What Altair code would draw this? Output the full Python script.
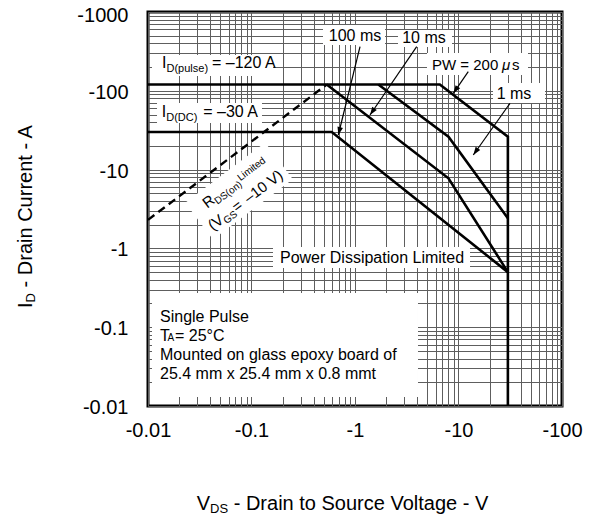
import altair as alt
import pandas as pd

FONT = "Liberation Sans"

# ---------------- data (magnitudes; axes are labelled negative) ----------------
pw200_v = [0.01, 6.6, 30.0, 30.0]
pw200_i = [120.0, 120.0, 26.2, 0.01]
ms1_v = [1.68, 8.0, 30.0]
ms1_i = [120.0, 26.2, 2.41]
ms10_v = [0.533, 8.0, 30.0]
ms10_i = [120.0, 7.76, 0.5]
ms100_v = [0.01, 0.596, 30.0]
ms100_i = [30.0, 30.0, 0.5]
rds_v = [0.01, 0.533]
rds_i = [2.3, 120.0]

x_decades = [0.01, 0.1, 1, 10, 100]
y_decades = [0.01, 0.1, 1, 10, 100, 1000]
mantissas = [1, 2, 3, 4, 5, 6, 7, 8, 9]

x_grid = sorted({round(m * d, 6) for d in x_decades[:-1] for m in mantissas} | {x_decades[-1]})
y_grid = sorted({round(m * d, 6) for d in y_decades[:-1] for m in mantissas} | {y_decades[-1]})


def label_expr(decades):
    lst = ",".join(str(d) for d in decades)
    return f"indexof([{lst}], datum.value) >= 0 ? '-' + datum.value : ''"


xs = alt.Scale(type="log", domain=[0.01, 100], nice=False)
ys = alt.Scale(type="log", domain=[0.01, 1000], nice=False)
common_axis = dict(grid=True, gridColor="#5e5e5e", gridWidth=1, ticks=False, tickSize=0,
                   domain=False, labelFont=FONT, labelFontSize=20, labelColor="black",
                   labelOverlap=False, labelFlush=False, title=None)
xaxis = alt.Axis(values=x_grid, labelExpr=label_expr(x_decades), labelPadding=14, **common_axis)
yaxis = alt.Axis(values=y_grid, labelExpr=label_expr(y_decades), labelPadding=20,
                 labelOffset={"condition": {"test": f"datum.value == {y_decades[-1]}", "value": 3},
                              "value": 1.5},
                 **common_axis)


def X():
    return alt.X("V:Q", scale=xs, axis=xaxis)


def Y():
    return alt.Y("I:Q", scale=ys, axis=yaxis)


# ---------------- curves ----------------
rows = []
for name, vs, is_ in [("200us", pw200_v, pw200_i), ("1ms", ms1_v, ms1_i),
                      ("10ms", ms10_v, ms10_i), ("100ms", ms100_v, ms100_i)]:
    for k, (v, i) in enumerate(zip(vs, is_)):
        rows.append({"series": name, "V": v, "I": i, "k": k})
curves_df = pd.DataFrame(rows)
rds_df = pd.DataFrame({"V": rds_v, "I": rds_i, "k": [0, 1]})

curves = alt.Chart(curves_df).mark_line(color="black", strokeWidth=2.6).encode(
    x=X(), y=Y(), detail="series:N", order="k:Q")
rds = alt.Chart(rds_df).mark_line(color="black", strokeWidth=2.4, strokeDash=[8, 5]).encode(
    x=X(), y=Y(), order="k:Q")

# ---------------- annotation layout ----------------
box_v1 = [0.01093, 0.01222, 0.4907, 2.603, 4.962, 21.54, 0.1613, 0.01093]
box_v2 = [0.1613, 0.1263, 1.950, 8.656, 46.94, 68.5, 12.92, 4.061]
box_i1 = [284.6, 70.0, 683.9, 591.0, 301.8, 125.6, 1.042, 0.2716]
box_i2 = [154.1, 39.0, 381.3, 359.6, 158.7, 70.0, 0.564, 0.0130]
boxes_df = pd.DataFrame({"V": box_v1, "V2": box_v2, "I": box_i1, "I2": box_i2})
boxes = alt.Chart(boxes_df).mark_rect(color="white").encode(
    x=X(), x2="V2:Q", y=Y(), y2="I2:Q")

# rotated white band behind the R_DS(on) label
halo_df = pd.DataFrame({"V": [0.03117], "I": [2.220], "V2": [0.1843], "I2": [12.89]})
halo = alt.Chart(halo_df).mark_rule(color="white", strokeWidth=46, strokeCap="butt").encode(
    x=X(), y=Y(), x2="V2:Q", y2="I2:Q")

# arrows: start (label) -> tip (curve)
arr_v1 = [1.118, 3.946, 12.43, 31.45]
arr_i1 = [362.8, 362.8, 174.7, 69.4]
arr_v2 = [0.6898, 1.396, 8.91, 13.9]
arr_i2 = [27.49, 49.3, 92.96, 15.32]
arr_angle = [193.8, 214.4, 214.8, 215.4]
arrows_df = pd.DataFrame({"V": arr_v1, "I": arr_i1, "V2": arr_v2, "I2": arr_i2})
arrow_lines = alt.Chart(arrows_df).mark_rule(color="black", strokeWidth=1.2).encode(
    x=X(), y=Y(), x2="V2:Q", y2="I2:Q")
heads = []
for v, i, a in zip(arr_v2, arr_i2, arr_angle):
    heads.append(alt.Chart(pd.DataFrame({"V": [v], "I": [i]})).mark_point(
        shape="M0,0L0.7,2L-0.7,2Z", filled=True, color="black", opacity=1,
        size=64, angle=a, strokeWidth=0).encode(x=X(), y=Y()))


def note(text, v, i, size=16, dx=0, dy=0, align="left", angle=0, style="normal"):
    props = dict(text=text, font=FONT, fontSize=size, align=align, baseline="alphabetic",
                 dx=dx, dy=dy, color="black", fontStyle=style)
    if angle:
        props["angle"] = angle
    return alt.Chart(pd.DataFrame({"V": [v], "I": [i]})).mark_text(**props).encode(x=X(), y=Y())


notes = [
    # I_D(pulse)
    note("I", 0.01365, 191.9), note("D(pulse)", 0.01365, 191.9, size=11, dx=4.5, dy=4),
    note("= \u2013120 A", 0.01365, 191.9, dx=50),
    # I_D(DC)
    note("I", 0.01356, 46.9), note("D(DC)", 0.01356, 46.9, size=11, dx=4.5, dy=4),
    note("= \u201330 A", 0.01356, 46.9, dx=41.5),
    # pulse widths
    note("100 ms", 1.0, 428.5, align="center"),
    note("10 ms", 4.642, 400.6, align="center"),
    note("PW = 200", 5.546, 183.6, size=15),
    note("\u03bc", 5.546, 183.6, size=15, dx=70, style="italic"),
    note("s", 5.546, 183.6, size=15, dx=80),
    note("1 ms", 34.38, 78.0, align="center"),
    note("Power Dissipation Limited", 1.46, 0.647, align="center"),
    # info block
    note("Single Pulse", 0.01306, 0.1174),
    note("T", 0.01306, 0.0668), note("A", 0.01306, 0.0668, size=10, dx=7.5),
    note("= 25\u00b0C", 0.01306, 0.0668, dx=15),
    note("Mounted on glass epoxy board of", 0.01306, 0.03835),
    note("25.4 mm x 25.4 mm x 0.8 mmt", 0.01306, 0.02202),
    # R_DS(on) limited (rotated)
    note("R", 0.0374, 3.19, size=15, angle=323),
    note("DS(on)", 0.0374, 3.19, size=10, dx=10.5, dy=3, angle=323),
    note("Limited", 0.0374, 3.19, size=10, dx=43, dy=-2, angle=323),
    note("(", 0.0374, 3.19, size=15, dx=-9, dy=21, angle=323),
    note("V", 0.0374, 3.19, size=15, dx=-4, dy=21, angle=323),
    note("GS", 0.0374, 3.19, size=10, dx=6, dy=24, angle=323),
    note("=", 0.0374, 3.19, size=15, dx=21, dy=21, angle=323),
    note("\u201310 V)", 0.0374, 3.19, size=15, dx=36, dy=21, angle=323),
]

# ---------------- axis titles (with subscripts) ----------------
one = pd.DataFrame({"a": [0]})


def title_piece(text, x, y, size=20, dx=0, dy=0, angle=0):
    props = dict(text=text, font=FONT, fontSize=size, align="left", baseline="alphabetic",
                 dx=dx, dy=dy, color="black")
    if angle:
        props["angle"] = angle
    return alt.Chart(one).mark_text(**props).encode(x=alt.value(x), y=alt.value(y))


titles = [
    title_piece("V", 48.7, 497.5),
    title_piece("DS", 48.7, 497.5, size=13, dx=13.3, dy=3.5),
    title_piece("- Drain to Source Voltage - V", 48.7, 497.5, dx=37),
    title_piece("I", -116.3, 296, angle=270),
    title_piece("D", -116.3, 296, size=13, dx=5.6, dy=3, angle=270),
    title_piece("- Drain Current - A", -116.3, 296, dx=20.6, angle=270),
]

chart = alt.layer(boxes, halo, arrow_lines, *heads, rds, curves, *notes, *titles).properties(
    width=414, height=394,
    padding={"left": 140, "top": 4, "right": 25, "bottom": 110},
    autosize="none",
).configure_view(stroke="black", strokeWidth=3)

chart.save("out.html", embed_options={"renderer": "svg", "actions": False})
